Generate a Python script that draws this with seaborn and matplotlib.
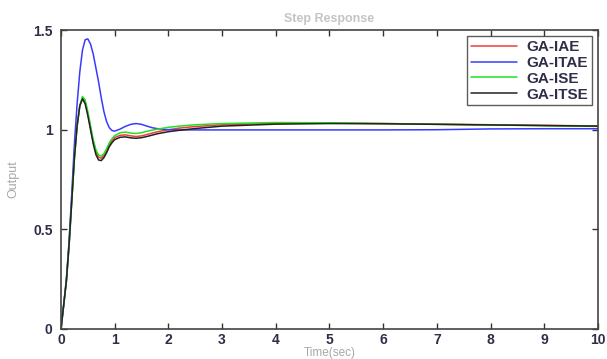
import numpy as np
import pandas as pd
import matplotlib
matplotlib.use("Agg")
import matplotlib.pyplot as plt
import seaborn as sns

# ---- data ----
time = [0, 0.05, 0.1, 0.15, 0.2, 0.25, 0.3, 0.35, 0.4, 0.45, 0.5, 0.55, 0.6, 0.65,
        0.7, 0.75, 0.8, 0.85, 0.9, 0.95, 1.0, 1.1, 1.2, 1.3, 1.4, 1.5, 1.6, 1.7,
        1.8, 2.0, 2.2, 2.5, 3, 4, 5, 6, 7, 8, 9, 10]

ga_iae = [0, 0.12, 0.24, 0.42, 0.64, 0.86, 1.02, 1.12, 1.16, 1.14, 1.08, 1.01, 0.94, 0.89,
          0.862, 0.857, 0.87, 0.895, 0.925, 0.945, 0.96, 0.972, 0.974, 0.969, 0.966, 0.969, 0.976, 0.983,
          0.99, 1.0, 1.008, 1.016, 1.025, 1.032, 1.033, 1.031, 1.028, 1.025, 1.022, 1.019]

ga_itae = [0, 0.12, 0.25, 0.44, 0.68, 0.93, 1.13, 1.29, 1.40, 1.452, 1.456, 1.43, 1.38, 1.31,
           1.24, 1.16, 1.09, 1.04, 1.01, 0.996, 0.993, 1.003, 1.017, 1.027, 1.031, 1.027, 1.018, 1.01,
           1.005, 1.0, 0.999, 0.999, 0.999, 0.999, 0.999, 0.999, 1.0, 1.004, 1.005, 1.005]

ga_ise = [0, 0.12, 0.24, 0.42, 0.64, 0.86, 1.02, 1.12, 1.167, 1.15, 1.09, 1.02, 0.95, 0.9,
          0.873, 0.868, 0.88, 0.905, 0.935, 0.955, 0.97, 0.985, 0.988, 0.983, 0.981, 0.985, 0.992, 0.998,
          1.003, 1.012, 1.018, 1.025, 1.031, 1.036, 1.035, 1.031, 1.027, 1.024, 1.02, 1.017]

ga_itse = [0, 0.12, 0.24, 0.42, 0.64, 0.86, 1.02, 1.12, 1.155, 1.13, 1.07, 1.0, 0.93, 0.875,
           0.848, 0.845, 0.86, 0.885, 0.915, 0.935, 0.95, 0.962, 0.964, 0.959, 0.957, 0.96, 0.966, 0.973,
           0.98, 0.99, 0.997, 1.006, 1.018, 1.028, 1.031, 1.03, 1.027, 1.024, 1.021, 1.018]

series_names = ["GA-IAE", "GA-ITAE", "GA-ISE", "GA-ITSE"]
x_ticks = [0, 1, 2, 3, 4, 5, 6, 7, 8, 9, 10]
y_ticks = [0, 0.5, 1, 1.5]
y_tick_labels = ["0", "0.5", "1", "1.5"]

df = pd.concat([
    pd.DataFrame({"Time": time, "Output": vals, "Controller": name})
    for name, vals in zip(series_names, [ga_iae, ga_itae, ga_ise, ga_itse])
], ignore_index=True)

sns.set_style("ticks", {"xtick.direction": "in", "ytick.direction": "in"})
plt.rcParams["font.family"] = ["Liberation Sans", "DejaVu Sans"]

fig = plt.figure(figsize=(6.07, 3.59), dpi=100)
ax = fig.add_axes([0.1005, 0.084, 0.8845, 0.832])

palette = {"GA-IAE": "#f03c3c", "GA-ITAE": "#3a3aff", "GA-ISE": "#22e022", "GA-ITSE": "#222222"}
sns.lineplot(data=df, x="Time", y="Output", hue="Controller", palette=palette,
             linewidth=1.1, ax=ax, legend=True)

ax.set_xlim(0, 10)
ax.set_ylim(0, 1.5)
ax.set_xticks(x_ticks)
ax.set_yticks(y_ticks)
ax.set_yticklabels(y_tick_labels)
ax.tick_params(axis="both", which="both", direction="in", top=True, right=True,
               length=4, width=1.0, color="#333333", labelsize=10, labelcolor="#2e2e48")
ax.tick_params(axis="y", pad=6)
ax.tick_params(axis="x", pad=3)
for lab in ax.get_xticklabels() + ax.get_yticklabels():
    lab.set_fontweight("bold")
for sp in ax.spines.values():
    sp.set_color("#444444")
    sp.set_linewidth(1.2)

ax.set_title("Step Response", fontsize=9, color="#c4c4c4", fontweight="bold", pad=6)
ax.set_ylabel("Output", fontsize=9, color="#a8a8a8", labelpad=10)
ax.set_xlabel("Time(sec)", fontsize=8.5, color="#a8a8a8", labelpad=0)

leg = ax.legend(loc="upper right", frameon=True, fancybox=False, fontsize=11,
                handlelength=3.0, handletextpad=0.6, labelspacing=0.12,
                borderpad=0.25, borderaxespad=0.4, title=None)
leg.get_frame().set_edgecolor("#333333")
leg.get_frame().set_linewidth(1.0)
for t in leg.get_texts():
    t.set_color("#2e2e48")
    t.set_fontweight("bold")

fig.savefig("out.png", dpi=100)
